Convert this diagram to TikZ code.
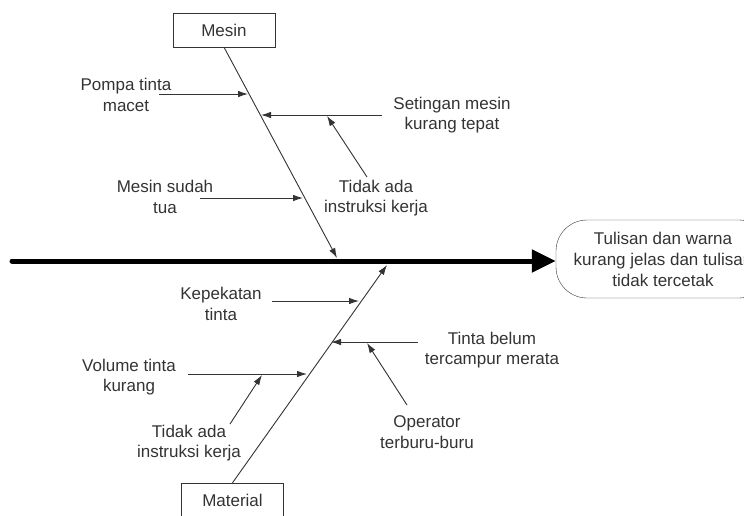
\documentclass[tikz,border=0pt]{standalone}
\usepackage{fontspec}
\setmainfont{Liberation Sans}
\usepackage{tikz}
\usetikzlibrary{arrows.meta,calc}

\definecolor{ink}{HTML}{333333}

\tikzset{
  txt/.style={align=center, inner sep=0pt, text=ink, font=\fontsize{17}{20.5}\selectfont},
  bonebox/.style={draw=ink, minimum width=102pt, minimum height=34pt, inner sep=0pt, text=ink, font=\fontsize{17}{20.5}\selectfont},
  cause/.style={draw=ink, line width=0.9pt, -{Latex[length=10pt,width=6.5pt]}},
  spine/.style={line width=5pt, line cap=round, -{Triangle[length=24pt,width=22pt]}}
}

\begin{document}
\begin{tikzpicture}[x=1pt, y=-1pt]
\useasboundingbox (0,0) rectangle (744,515);

% kepala ikan dan kotak kategori
\node[bonebox] (mesin) at (224,30) {Mesin};
\node[bonebox] (material) at (232.5,500) {Material};
\node[draw=ink, rounded corners=31pt, minimum width=214pt, minimum height=78pt, text=ink,
      align=center, font=\fontsize{17}{21}\selectfont] (akibat) at (663,259)
      {Tulisan dan warna\\kurang jelas dan tulisan\\tidak tercetak};

\coordinate (ekor) at (12,261);
\draw[spine] (ekor) -- (ekor -| akibat.west);

% tulang utama
\coordinate (mtip) at (337,258);
\coordinate (ttip) at (387,265);
\draw[cause] (mesin.south) -- (mtip);
\draw[cause] (material.north) -- (ttip);

% teks penyebab
\foreach \n/\x/\y/\isi in {pompa/126/95/{Pompa tinta\\macet},
  seting/452/115/{Setingan mesin\\kurang tepat},
  instra/376/198/{Tidak ada\\instruksi kerja},
  tua/165/197/{Mesin sudah\\tua},
  pekat/221/304/{Kepekatan\\tinta},
  campur/492/350/{Tinta belum\\tercampur merata},
  buru/427/432/{Operator\\terburu-buru},
  volume/129/377/{Volume tinta\\kurang},
  instrb/189/443/{Tidak ada\\instruksi kerja}}{
  \node[txt] (\n) at (\x,\y) {\isi};
}

% panah penyebab
\foreach \n/\ax/\ay/\bx/\by in {pompa/159/94/248/94,
  seting/382/115/261/115,
  tua/200/198/303/198,
  pekat/272/301/359/301,
  campur/418/342/331/342,
  volume/188/374/307/374,
  instra/367/177/327/116,
  buru/407/405/367/343,
  instrb/230/424/262/375}{
  \coordinate (\n-a) at (\ax,\ay);
  \coordinate (\n-b) at (\bx,\by);
  \draw[cause] (\n-a) -- (\n-b);
}

\end{tikzpicture}
\end{document}
